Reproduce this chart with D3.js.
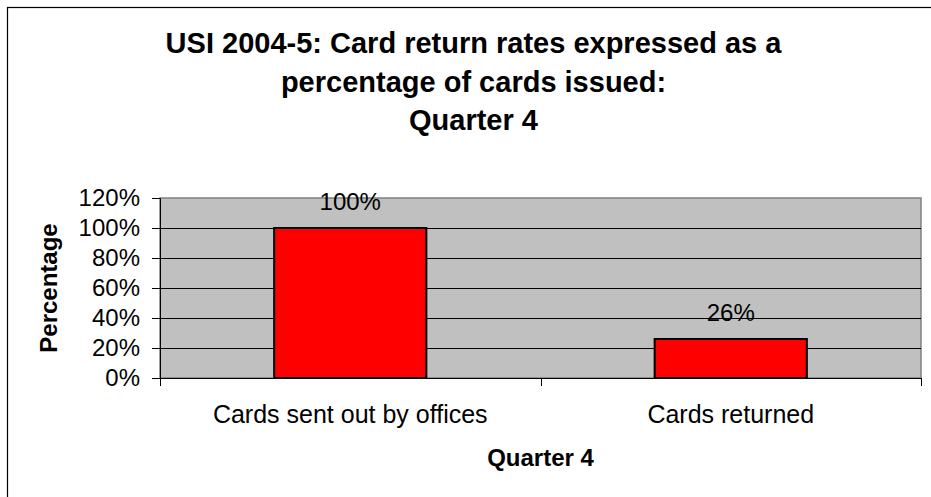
<!DOCTYPE html>
<html>
<head>
<meta charset="utf-8">
<script src="https://cdn.jsdelivr.net/npm/d3@7"></script>
<style>
  body { margin: 0; background: #fff; }
  text { font-family: "Liberation Sans", Arial, sans-serif; }
</style>
</head>
<body>
<div id="graph"></div>
<script>
const width = 931, height = 497;
const titleLines = ["USI 2004-5: Card return rates expressed as a", "percentage of cards issued:", "Quarter 4"];
const categories = ["Cards sent out by offices", "Cards returned"];
const values = [100, 26];
const yTicks = [0, 20, 40, 60, 80, 100, 120];
const xTitle = "Quarter 4";
const yTitle = "Percentage";

const plot = { left: 160, right: 921, top: 198, bottom: 378 };

let svg =
d3.select("#graph").
append("svg").
attr("width", width).
attr("height", height);

// outer chart frame (runs off the right / bottom of the picture)
svg.append("rect").
attr("x", 7.5).
attr("y", 7.5).
attr("width", 933).
attr("height", 500).
attr("fill", "none").
attr("stroke", "#000").
attr("stroke-width", 1.2);

const yScale =
d3.scaleLinear().
domain([0, 120]).
range([plot.bottom, plot.top]);

// band scale for the category slots, another one for the bars inside them
const xCat =
d3.scaleBand().
domain(categories).
range([plot.left, plot.right]);

const xBar =
d3.scaleBand().
domain(categories).
range([plot.left, plot.right]).
paddingInner(0.6).
paddingOuter(0.3);

// plot background
svg.append("rect").
attr("x", plot.left).
attr("y", plot.top).
attr("width", plot.right - plot.left).
attr("height", plot.bottom - plot.top).
attr("fill", "#c0c0c0").
attr("stroke", "#808080").
attr("stroke-width", 1.5);

// gridlines
svg.selectAll(".grid").
data(yTicks.filter(d => d > 0 && d < 120)).
enter().
append("line").
attr("class", "grid").
attr("x1", plot.left).
attr("x2", plot.right).
attr("y1", d => Math.round(yScale(d)) + 0.5).
attr("y2", d => Math.round(yScale(d)) + 0.5).
attr("stroke", "#000").
attr("stroke-width", 1);

// y axis
const yAxis =
d3.axisLeft(yScale).
tickValues(yTicks).
tickSize(8).
tickPadding(12).
tickFormat(d => d + "%");

let gy = svg.append("g").
attr("transform", "translate(" + plot.left + ",0)").
call(yAxis);
gy.select(".domain").attr("stroke", "#000");
gy.selectAll("text").
attr("font-size", 24).
attr("font-family", "'Liberation Sans', Arial, sans-serif").
attr("fill", "#000");

// x axis line + boundary ticks
svg.append("line").
attr("x1", plot.left).
attr("x2", plot.right).
attr("y1", plot.bottom + 0.5).
attr("y2", plot.bottom + 0.5).
attr("stroke", "#000");

const bounds = categories.map(c => xCat(c)).concat([xCat(categories[categories.length - 1]) + xCat.bandwidth()]);
svg.selectAll(".xtick").
data(bounds).
enter().
append("line").
attr("class", "xtick").
attr("x1", d => Math.round(d) + 0.5).
attr("x2", d => Math.round(d) + 0.5).
attr("y1", plot.bottom).
attr("y2", plot.bottom + 8).
attr("stroke", "#000");

svg.selectAll(".xlabel").
data(categories).
enter().
append("text").
attr("class", "xlabel").
attr("x", d => xCat(d) + xCat.bandwidth() / 2).
attr("y", 423).
attr("text-anchor", "middle").
attr("font-size", 25).
text(d => d);

// bars
svg.selectAll(".bar").
data(values).
enter().
append("rect").
attr("class", "bar").
attr("x", (d, i) => xBar(categories[i])).
attr("y", d => yScale(d)).
attr("width", xBar.bandwidth()).
attr("height", d => yScale(0) - yScale(d)).
attr("fill", "#ff0000").
attr("stroke", "#000").
attr("stroke-width", 2);

// value labels
svg.selectAll(".vlabel").
data(values).
enter().
append("text").
attr("class", "vlabel").
attr("x", (d, i) => xBar(categories[i]) + xBar.bandwidth() / 2).
attr("y", d => yScale(d) - 18).
attr("text-anchor", "middle").
attr("font-size", 24).
text(d => d + "%");

// title
svg.selectAll(".title").
data(titleLines).
enter().
append("text").
attr("class", "title").
attr("x", 473.5).
attr("y", (d, i) => 53 + i * 38.5).
attr("text-anchor", "middle").
attr("font-size", 29).
attr("font-weight", "bold").
text(d => d);

// axis titles
svg.append("text").
attr("x", (plot.left + plot.right) / 2).
attr("y", 466).
attr("text-anchor", "middle").
attr("font-size", 24).
attr("font-weight", "bold").
text(xTitle);

svg.append("text").
attr("transform", "translate(57," + (plot.top + plot.bottom) / 2 + ") rotate(-90)").
attr("text-anchor", "middle").
attr("font-size", 24).
attr("font-weight", "bold").
text(yTitle);
</script>
</body>
</html>
